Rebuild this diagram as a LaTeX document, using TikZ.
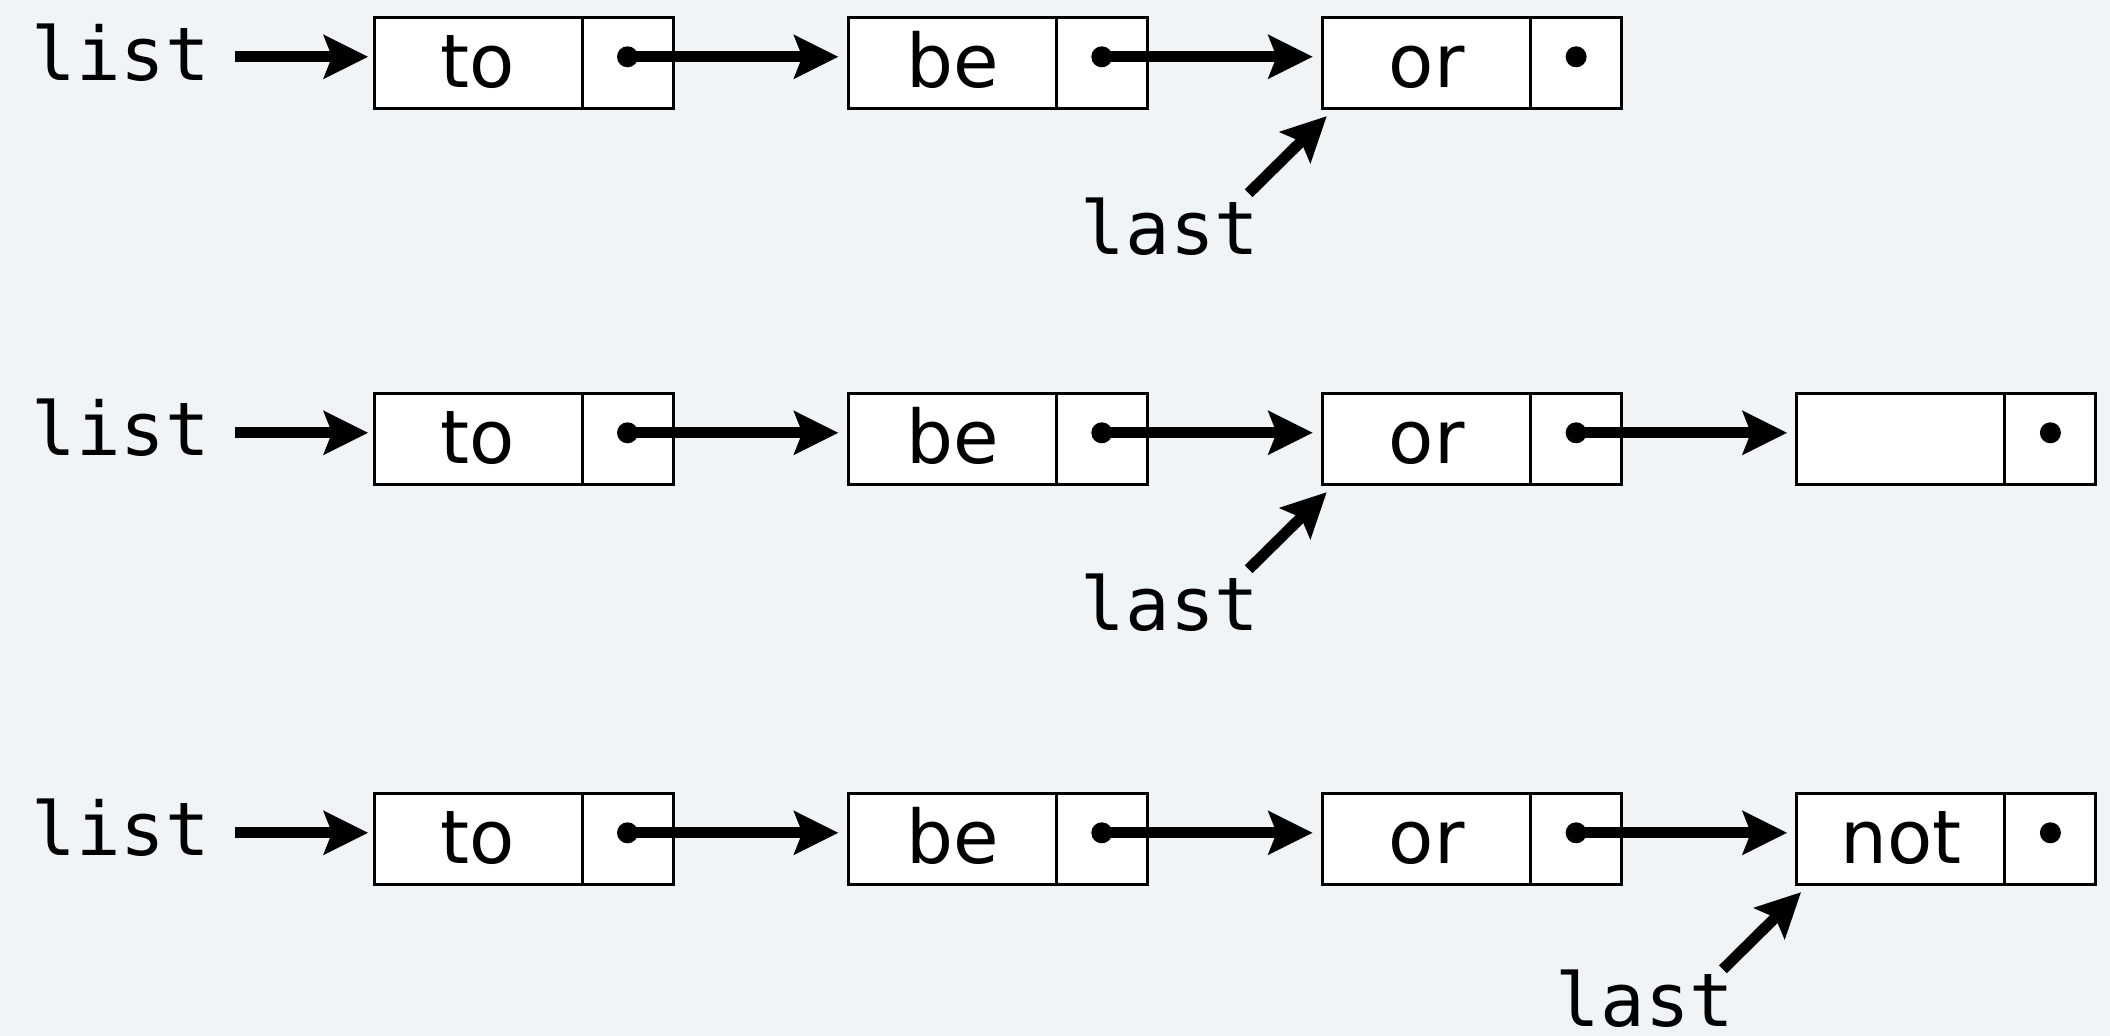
\documentclass[tikz,border=0pt]{standalone}
\usepackage{fontspec}
\usetikzlibrary{arrows.meta}
\newfontfamily\cellfont{DejaVu Sans}
\newfontfamily\codefont{DejaVu Sans Mono}
\definecolor{pagebg}{RGB}{241,244,247}

\begin{document}
\begin{tikzpicture}[x=1pt,y=-1pt,
  datacell/.style={draw, line width=3pt, fill=white, minimum width=208pt,
    minimum height=91pt, inner sep=0pt, outer sep=0pt, anchor=north west,
    font=\cellfont\fontsize{74pt}{80pt}\selectfont,
    text height=60pt, text depth=11pt},
  nextcell/.style={draw, line width=3pt, fill=white, minimum width=91pt,
    minimum height=91pt, inner sep=0pt, outer sep=0pt, anchor=west},
  codelbl/.style={font=\codefont\fontsize{74pt}{80pt}\selectfont,
    anchor=base, inner sep=0pt},
  ptrdot/.style={circle, fill=black, inner sep=0pt, minimum size=21pt},
  ref/.style={line width=11pt,
    -{Stealth[length=45pt,width=45pt,inset=9pt,line width=0pt]}},
]
% page
\fill[pagebg] (0,0) rectangle (2110,1036);
\useasboundingbox (0,0) rectangle (2110,1036);

% ---------- first list: to -> be -> or ----------
\node[datacell] (r1a) at (374,17.3) {to};
\node[nextcell] (r1ap) at (r1a.east) {};
\node[datacell] (r1b) at (848.3,17.3) {be};
\node[nextcell] (r1bp) at (r1b.east) {};
\node[datacell] (r1c) at (1322.6,17.3) {or};
\node[nextcell] (r1cp) at (r1c.east) {};
\node[ptrdot] (r1ad) at ([yshift=6pt]r1ap.center) {};
\node[ptrdot] (r1bd) at ([yshift=6pt]r1bp.center) {};
\node[ptrdot] (r1cd) at ([yshift=6pt]r1cp.center) {};

\node[codelbl] (list1) at (121,80) {list};
\node[codelbl] (last1) at (1170,254) {last};

\draw[ref, shorten >=6pt] ([xshift=25pt]list1.east |- r1ad) -- (r1ad -| r1a.west);
\draw[ref, shorten >=10pt] (r1ad.center) -- (r1ad -| r1b.west);
\draw[ref, shorten >=10pt] (r1bd.center) -- (r1bd -| r1c.west);
\coordinate (t1) at ([xshift=-74pt,yshift=-85pt]r1c.south west);
\draw[ref] (t1) -- ([xshift=4pt,yshift=-8pt]r1c.south west);

% ---------- second list: new empty node appended ----------
\node[datacell] (r2a) at (374,393.3) {to};
\node[nextcell] (r2ap) at (r2a.east) {};
\node[datacell] (r2b) at (848.3,393.3) {be};
\node[nextcell] (r2bp) at (r2b.east) {};
\node[datacell] (r2c) at (1322.6,393.3) {or};
\node[nextcell] (r2cp) at (r2c.east) {};
\node[datacell] (r2d) at (1796.9,393.3) {};
\node[nextcell] (r2dp) at (r2d.east) {};
\node[ptrdot] (r2ad) at ([yshift=6pt]r2ap.center) {};
\node[ptrdot] (r2bd) at ([yshift=6pt]r2bp.center) {};
\node[ptrdot] (r2cd) at ([yshift=6pt]r2cp.center) {};
\node[ptrdot] (r2dd) at ([yshift=6pt]r2dp.center) {};

\node[codelbl] (list2) at (121,455) {list};
\node[codelbl] (last2) at (1170,630) {last};

\draw[ref, shorten >=6pt] ([xshift=25pt]list2.east |- r2ad) -- (r2ad -| r2a.west);
\draw[ref, shorten >=10pt] (r2ad.center) -- (r2ad -| r2b.west);
\draw[ref, shorten >=10pt] (r2bd.center) -- (r2bd -| r2c.west);
\draw[ref, shorten >=10pt] (r2cd.center) -- (r2cd -| r2d.west);
\coordinate (t2) at ([xshift=-74pt,yshift=-85pt]r2c.south west);
\draw[ref] (t2) -- ([xshift=4pt,yshift=-8pt]r2c.south west);

% ---------- third list: not stored, last moved ----------
\node[datacell] (r3a) at (374,793.3) {to};
\node[nextcell] (r3ap) at (r3a.east) {};
\node[datacell] (r3b) at (848.3,793.3) {be};
\node[nextcell] (r3bp) at (r3b.east) {};
\node[datacell] (r3c) at (1322.6,793.3) {or};
\node[nextcell] (r3cp) at (r3c.east) {};
\node[datacell] (r3d) at (1796.9,793.3) {not};
\node[nextcell] (r3dp) at (r3d.east) {};
\node[ptrdot] (r3ad) at ([yshift=6pt]r3ap.center) {};
\node[ptrdot] (r3bd) at ([yshift=6pt]r3bp.center) {};
\node[ptrdot] (r3cd) at ([yshift=6pt]r3cp.center) {};
\node[ptrdot] (r3dd) at ([yshift=6pt]r3dp.center) {};

\node[codelbl] (list3) at (121,855) {list};
\node[codelbl] (last3) at (1645,1026) {last};

\draw[ref, shorten >=6pt] ([xshift=25pt]list3.east |- r3ad) -- (r3ad -| r3a.west);
\draw[ref, shorten >=10pt] (r3ad.center) -- (r3ad -| r3b.west);
\draw[ref, shorten >=10pt] (r3bd.center) -- (r3bd -| r3c.west);
\draw[ref, shorten >=10pt] (r3cd.center) -- (r3cd -| r3d.west);
\coordinate (t3) at ([xshift=-74pt,yshift=-85pt]r3d.south west);
\draw[ref] (t3) -- ([xshift=4pt,yshift=-8pt]r3d.south west);
\end{tikzpicture}
\end{document}
